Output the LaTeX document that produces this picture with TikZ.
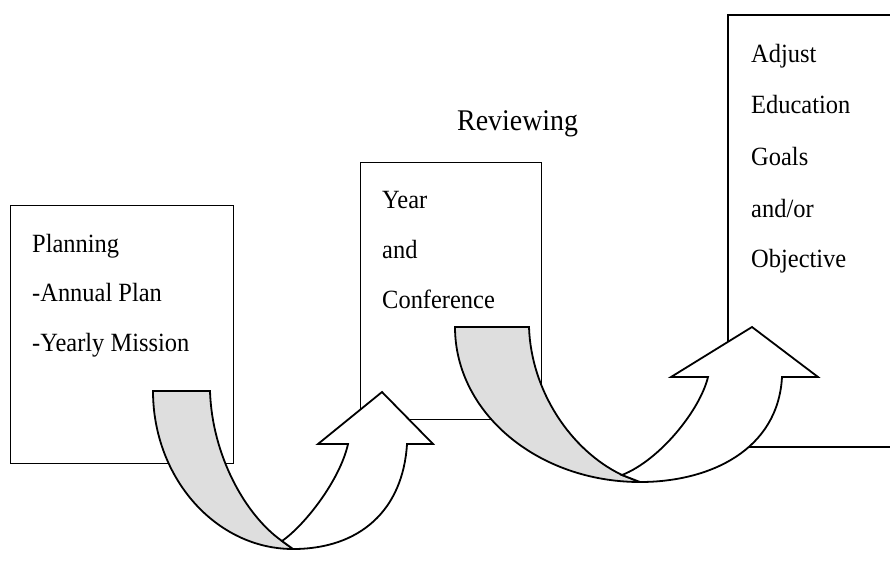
\documentclass[tikz,border=0pt]{standalone}
\usepackage{graphicx}
\usepackage{fontspec}
\setmainfont{Liberation Serif}
\definecolor{bandshade}{HTML}{DEDEDE}
\newcommand{\narrowtxt}[1]{\scalebox{0.93}[1]{#1}}
\begin{document}
\begin{tikzpicture}[x=1pt,y=-1pt,
  box/.style={draw=black,line width=1.4pt,inner sep=0pt,anchor=north west},
  lbl/.style={anchor=base west,inner sep=0pt,font=\fontsize{26.3}{30}\selectfont},
  band/.style={draw=black,line width=1.8pt,line join=miter}]
\useasboundingbox (0,0) rectangle (890,576);
\fill[white] (0,0) rectangle (890,576);
% boxes
\node[box,minimum width=223pt,minimum height=258pt] (plan) at (10,205) {};
\node[box,minimum width=181pt,minimum height=257pt] (year) at (360,162) {};
\coordinate (adjTR) at (891,15);
\coordinate (adjTL) at (728,15);
\coordinate (adjBL) at (728,447);
\coordinate (adjBR) at (891,447);
\draw[line width=1.4pt] (adjTR) -- (adjTL) -- (adjBL) -- (adjBR);
% texts
\node[lbl] (p1) at (32,252) {\narrowtxt{Planning}};
\node[lbl] (p2) at (32,301) {\narrowtxt{-Annual Plan}};
\node[lbl] (p3) at (32,351) {\narrowtxt{-Yearly Mission}};
\node[lbl] (y1) at (382,208) {\narrowtxt{Year}};
\node[lbl] (y2) at (382,258) {\narrowtxt{and}};
\node[lbl] (y3) at (382,308) {\narrowtxt{Conference}};
\node[lbl] (j1) at (751,62) {\narrowtxt{Adjust}};
\node[lbl] (j2) at (751,113) {\narrowtxt{Education}};
\node[lbl] (j3) at (751,165) {\narrowtxt{Goals}};
\node[lbl] (j4) at (751,217) {\narrowtxt{and/or}};
\node[lbl] (j5) at (751,267) {\narrowtxt{Objective}};
\node[anchor=base west,inner sep=0pt,font=\fontsize{30}{34}\selectfont] (rev) at (457,130) {\narrowtxt{Reviewing}};
% arrow 1
\coordinate (aat1) at (153,391);
\coordinate (aat2) at (210,391);
\coordinate (aab) at (293,549);
\coordinate (aax) at (282,541);
\coordinate (aahl) at (348,444);
\coordinate (aahr) at (407,444);
\coordinate (aacl) at (318,444);
\coordinate (aacr) at (433,444);
\coordinate (aatip) at (382,392);
\draw[band,fill=bandshade] (aat1) .. controls (153,478) and (216,549) .. (aab) -- (aax) .. controls (245,515) and (212,455) .. (aat2) -- cycle;
\draw[band,fill=white] (aax) .. controls (305,525) and (340,480) .. (aahl) -- (aacl) -- (aatip) -- (aacr) -- (aahr) .. controls (403,510) and (360,549) .. (aab) -- cycle;
% arrow 2
\coordinate (abt1) at (455,327);
\coordinate (abt2) at (529,327);
\coordinate (abb) at (640,482);
\coordinate (abx) at (622,475);
\coordinate (abhl) at (708,377);
\coordinate (abhr) at (782,377);
\coordinate (abcl) at (671,377);
\coordinate (abcr) at (818,377);
\coordinate (abtip) at (752,327);
\draw[band,fill=bandshade] (abt1) .. controls (455,413) and (538,482) .. (abb) -- (abx) .. controls (570,450) and (531,390) .. (abt2) -- cycle;
\draw[band,fill=white] (abx) .. controls (660,460) and (700,410) .. (abhl) -- (abcl) -- (abtip) -- (abcr) -- (abhr) .. controls (778,450) and (710,482) .. (abb) -- cycle;
\end{tikzpicture}
\end{document}
